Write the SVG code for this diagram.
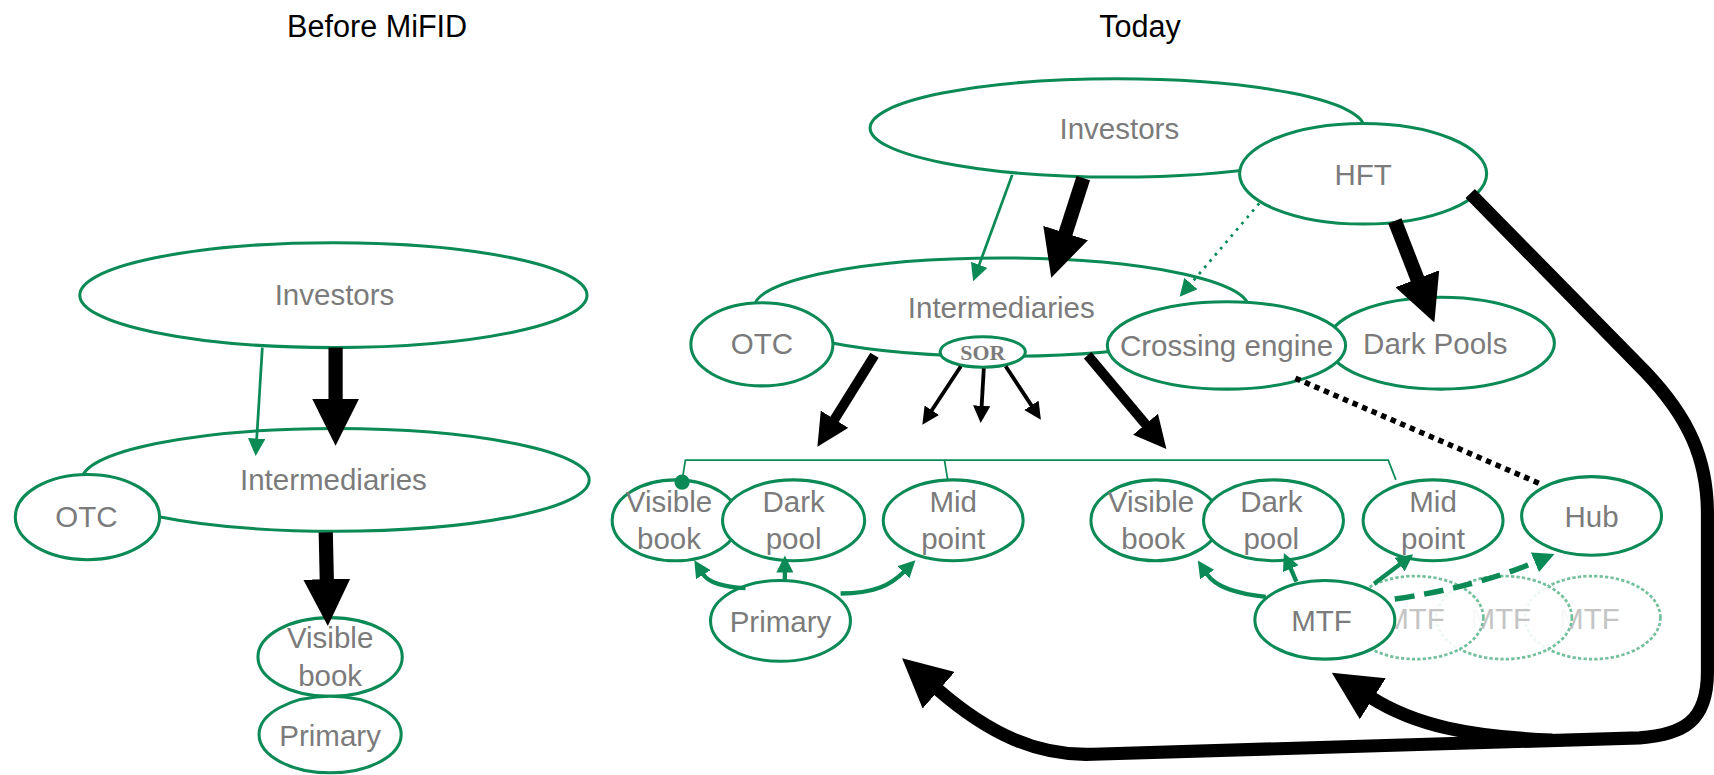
<svg xmlns="http://www.w3.org/2000/svg" width="1714" height="775" viewBox="0 0 1714 775">
<defs>
<style>
.n ellipse{fill:#fff;stroke:#0b8a56;stroke-width:2.8}
.t{font-family:"Liberation Sans",Arial,sans-serif;font-size:27px;fill:#7b7b7b;text-anchor:middle}
.ttl{font-family:"Liberation Sans",Arial,sans-serif;font-size:28px;fill:#000;text-anchor:middle}
.gst ellipse{fill:#fff;fill-opacity:0.88;stroke:#74c09c;stroke-width:2.5;stroke-dasharray:3 2}
.gst text{font-family:"Liberation Sans",Arial,sans-serif;font-size:27px;fill:#c4c4c4;text-anchor:middle}
.blk{fill:none;stroke:#000;stroke-linejoin:round}
.grn{fill:none;stroke:#0b8a56;stroke-linejoin:round}
</style>
<marker id="bh" viewBox="0 0 10 10" refX="0.5" refY="5" markerWidth="3.3" markerHeight="3.3" orient="auto" markerUnits="strokeWidth"><path d="M0,0 L10,5 L0,10 z" fill="#000"/></marker>
<marker id="bhc" viewBox="0 0 10 10" refX="0.5" refY="5" markerWidth="3.7" markerHeight="3.7" orient="auto" markerUnits="strokeWidth"><path d="M0,0 L10,5 L0,10 z" fill="#000"/></marker>
<marker id="bhs" viewBox="0 0 10 10" refX="0.5" refY="5" markerWidth="4.5" markerHeight="4.5" orient="auto" markerUnits="strokeWidth"><path d="M0,0 L10,5 L0,10 z" fill="#000"/></marker>
<marker id="gh" viewBox="0 0 10 10" refX="0.5" refY="5" markerWidth="6.4" markerHeight="6.4" orient="auto" markerUnits="strokeWidth"><path d="M0,0 L10,5 L0,10 z" fill="#0b8a56"/></marker>
<marker id="gm" viewBox="0 0 10 10" refX="0.5" refY="5" markerWidth="3.9" markerHeight="3.9" orient="auto" markerUnits="strokeWidth"><path d="M0,0 L10,5 L0,10 z" fill="#0b8a56"/></marker>
</defs>
<rect width="1714" height="775" fill="#fff"/>
<g transform="scale(1.09311)">
<text class="ttl" x="345" y="34">Before MiFID</text>
<text class="ttl" x="1043" y="34">Today</text>

<!-- LEFT: Before MiFID -->
<g id="L-investors" class="n"><ellipse cx="305" cy="270" rx="232" ry="48"/><text class="t" x="306" y="279">Investors</text></g>
<g id="L-intermediaries" class="n"><ellipse cx="307" cy="439" rx="232" ry="47"/><text class="t" x="305" y="448">Intermediaries</text></g>
<g id="L-otc" class="n"><ellipse cx="80" cy="473" rx="66" ry="39"/><text class="t" x="79" y="482">OTC</text></g>
<g id="L-visible" class="n"><ellipse cx="302" cy="601" rx="66" ry="36"/><text class="t" x="302" y="593">Visible</text><text class="t" x="302" y="628">book</text></g>
<g id="L-primary" class="n"><ellipse cx="302" cy="672" rx="65" ry="35"/><text class="t" x="302" y="682">Primary</text></g>

<!-- RIGHT: Today -->
<g id="R-investors" class="n"><ellipse cx="1022" cy="117" rx="226" ry="45"/><text class="t" x="1024" y="127">Investors</text></g>
<g id="R-hft" class="n"><ellipse cx="1247" cy="159" rx="113" ry="46"/><text class="t" x="1247" y="169">HFT</text></g>
<g id="R-intermediaries" class="n"><ellipse cx="916" cy="281" rx="226" ry="45"/><text class="t" x="916" y="291">Intermediaries</text></g>
<g id="R-otc" class="n"><ellipse cx="697" cy="315" rx="65" ry="38"/><text class="t" x="697" y="324">OTC</text></g>
<g id="R-sor" class="n"><ellipse cx="899" cy="322" rx="39" ry="14"/><text x="899" y="329" style="font-family:'Liberation Serif','Times New Roman',serif;font-size:20px;font-weight:bold;fill:#7b7b7b;text-anchor:middle">SOR</text></g>
<g id="R-darkpools" class="n"><ellipse cx="1318" cy="314" rx="104" ry="42"/><text class="t" x="1313" y="324">Dark Pools</text></g>
<g id="R-crossing" class="n"><ellipse cx="1122" cy="316" rx="109" ry="40"/><text class="t" x="1122" y="326">Crossing engine</text></g>

<g id="R-visible1" class="n"><ellipse cx="618" cy="476" rx="58" ry="37"/><text class="t" x="612" y="468">Visible</text><text class="t" x="612" y="502">book</text></g>
<g id="R-darkpool1" class="n"><ellipse cx="726" cy="476" rx="65" ry="37"/><text class="t" x="726" y="468">Dark</text><text class="t" x="726" y="502">pool</text></g>
<g id="R-midpoint1" class="n"><ellipse cx="872" cy="476" rx="64" ry="37"/><text class="t" x="872" y="468">Mid</text><text class="t" x="872" y="502">point</text></g>
<g id="R-primary" class="n"><ellipse cx="714" cy="568" rx="64" ry="37"/><text class="t" x="714" y="578">Primary</text></g>

<g id="R-visible2" class="n"><ellipse cx="1057" cy="476" rx="59" ry="37"/><text class="t" x="1053" y="468">Visible</text><text class="t" x="1055" y="502">book</text></g>
<g id="R-darkpool2" class="n"><ellipse cx="1165" cy="476" rx="64" ry="37"/><text class="t" x="1163" y="468">Dark</text><text class="t" x="1163" y="502">pool</text></g>
<g id="R-midpoint2" class="n"><ellipse cx="1311" cy="476" rx="64" ry="37"/><text class="t" x="1311" y="468">Mid</text><text class="t" x="1311" y="502">point</text></g>
<g id="R-hub" class="n"><ellipse cx="1456" cy="472" rx="64" ry="36"/><text class="t" x="1456" y="482">Hub</text></g>

<g id="R-mtf-ghost3" class="gst"><ellipse cx="1457" cy="565" rx="62" ry="38"/><text x="1454" y="575">MTF</text></g>
<g id="R-mtf-ghost2" class="gst"><ellipse cx="1376" cy="565" rx="62" ry="38"/><text x="1373" y="575">MTF</text></g>
<g id="R-mtf-ghost1" class="gst"><ellipse cx="1295" cy="565" rx="62" ry="38"/><text x="1294" y="575">MTF</text></g>
<g id="R-mtf" class="n"><ellipse cx="1212" cy="567" rx="64" ry="36"/><text class="t" x="1209" y="577">MTF</text></g>

<!-- Connectors -->
<g id="connectors">
<path class="grn" stroke-width="2.5" d="M240,318 L234.8,402" marker-end="url(#gh)"/>
<path class="blk" stroke-width="13" d="M307,318 L307,367" marker-end="url(#bh)"/>
<path class="blk" stroke-width="13" d="M298,487 L299,532" marker-end="url(#bh)"/>
<path class="grn" stroke-width="2.5" d="M926,160 L895.5,243" marker-end="url(#gh)"/>
<path class="blk" stroke-width="13" d="M991,163 L974.2,215.2" marker-end="url(#bh)"/>
<path class="grn" stroke-width="2.5" stroke-dasharray="2.5 5" d="M1152,186 L1089,260" marker-end="url(#gh)"/>
<path class="blk" stroke-width="13" d="M1276,202 L1297.4,257" marker-end="url(#bh)"/>
<path class="blk" stroke-width="9" d="M800,325 L762.7,384.8" marker-end="url(#bh)"/>
<path class="blk" stroke-width="9" d="M995,325 L1048.9,389.2" marker-end="url(#bh)"/>
<path class="blk" stroke-width="3.5" d="M879,335 L852,376" marker-end="url(#bhs)"/>
<path class="blk" stroke-width="3.5" d="M900,337 L898,372" marker-end="url(#bhs)"/>
<path class="blk" stroke-width="3.5" d="M920,335 L944,371.5" marker-end="url(#bhs)"/>
<path fill="none" stroke="#0b8a56" stroke-width="1.6" d="M624,440 L627,421 L1270,421 L1277,439 M864,421 L867,439"/>
<circle cx="624" cy="441" r="7" fill="#0b8a56"/>
<path class="blk" stroke-width="5" stroke-dasharray="5 4.5" d="M1185,346 L1410,443"/>
<path class="grn" stroke-width="4" d="M682,538 C660,537 648,533 643,525" marker-end="url(#gm)"/>
<path class="grn" stroke-width="4" d="M718,531 L718,523" marker-end="url(#gm)"/>
<path class="grn" stroke-width="4" d="M769,543 C800,543 815,535 827,523" marker-end="url(#gm)"/>
<path class="grn" stroke-width="4" d="M1158,546 C1130,543 1112,537 1104,525" marker-end="url(#gm)"/>
<path class="grn" stroke-width="4" d="M1186,532 L1180.5,519.5" marker-end="url(#gm)"/>
<path class="grn" stroke-width="4" d="M1257,534 L1281,516" marker-end="url(#gm)"/>
<path class="grn" stroke-width="5" stroke-dasharray="18 9" d="M1276,548 Q1350,537 1405,514" marker-end="url(#gm)"/>
<path class="blk" stroke-width="12" d="M1345,177 L1505,340 C1545,382 1562,420 1562,470 L1562,615 C1562,660 1540,672 1500,675 L1000,690 C950,692 905,672 857,630" marker-end="url(#bhc)"/>
<path class="blk" stroke-width="12" d="M1420,677 C1345,674 1295,664 1254,638" marker-end="url(#bhc)"/>
</g>
</g>
</svg>
